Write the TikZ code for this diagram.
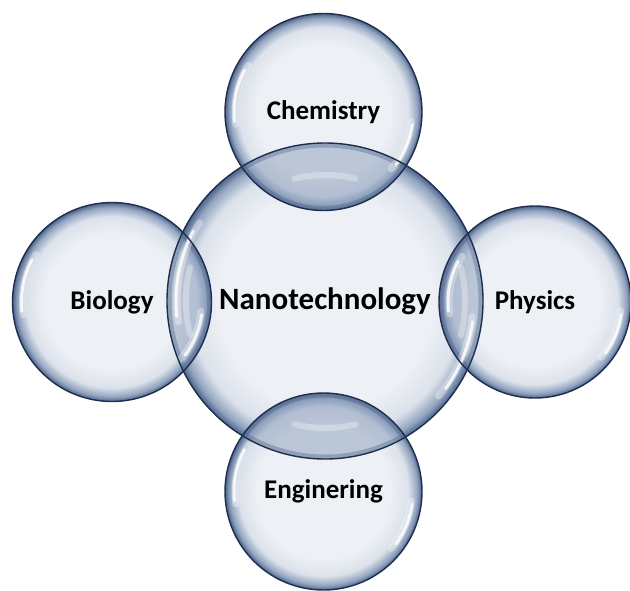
\documentclass[tikz,border=0pt]{standalone}
\usepackage{fontspec}
\setmainfont{Carlito}
\definecolor{bubin}{HTML}{EDF0F5}
\definecolor{bubmid}{HTML}{DCE2EB}
\definecolor{bubedge}{HTML}{93A5C0}
\definecolor{bubrim}{HTML}{4C638A}
\definecolor{outl}{HTML}{1E2E4E}
\definecolor{lensc}{HTML}{7F93B3}
\pgfdeclareradialshading{bubble}{\pgfpoint{0bp}{0bp}}{color(0bp)=(bubin); color(17bp)=(bubin); color(21.5bp)=(bubmid); color(23.8bp)=(bubedge); color(25bp)=(bubrim); color(50bp)=(bubrim)}
\tikzset{
  bubblenode/.style={circle, shade, shading=bubble, inner sep=0pt, text=black,
    font=\bfseries\fontsize{27}{30}\selectfont},
  rimline/.style={draw=outl, line width=1.4pt},
  hl/.style={white, line width=3pt, line cap=round, opacity=0.8},
  hlsoft/.style={white, line width=7pt, line cap=round, opacity=0.35},
  lensfill/.style={fill=lensc, opacity=0.45},
  lensrim/.style={draw=bubrim, line width=9pt, opacity=0.38},
  lenshl/.style={white, line width=6pt, line cap=round, opacity=0.3}
}
\begin{document}
\begin{tikzpicture}[x=1pt, y=-1pt]
\useasboundingbox (0,0) rectangle (630,590);
\fill[white] (0,0) rectangle (630,590);
% central bubble
\node[bubblenode, minimum size=316pt, font=\bfseries\fontsize{31}{34}\selectfont] (nano) at (325,301) {Nanotechnology};
% satellite bubbles
\node[bubblenode, minimum size=197pt] (chem) at (323.5,112) {Chemistry};
\node[bubblenode, minimum size=199pt] (bio) at (112,302) {Biology};
\node[bubblenode, minimum size=192pt] (phys) at (535,302) {Physics};
\node[bubblenode, minimum size=197pt] (eng) at (323.5,491.5) {Enginering};
% overlap lenses
\foreach \s/\r/\a/\m in {chem/98.5/270/126, bio/99.5/180/139, phys/96/0/140, eng/98.5/90/127}{
  \begin{scope}
    \clip (nano.center) circle[radius=158];
    \clip (\s.center) circle[radius=\r];
    \fill[lensfill] (\s.center) circle[radius=\r];
    \draw[lensrim] (nano.center) circle[radius=158];
    \draw[lensrim] (\s.center) circle[radius=\r];
    \draw[lenshl] (nano.center) ++(\a-14:\m) arc[start angle=\a-14, end angle=\a+14, radius=\m];
  \end{scope}
}
% glossy highlights
\foreach \n/\r in {nano/158, chem/98.5, bio/99.5, phys/96, eng/98.5}{
  \draw[hlsoft] (\n.center) ++(172:\r-10) arc[start angle=172, end angle=212, radius=\r-10];
  \draw[hl] (\n.center) ++(174:\r-9) arc[start angle=174, end angle=208, radius=\r-9];
  \draw[hlsoft] (\n.center) ++(6:\r-10) arc[start angle=6, end angle=40, radius=\r-10];
  \draw[hl] (\n.center) ++(8:\r-9) arc[start angle=8, end angle=36, radius=\r-9];
}
% outlines
\foreach \n/\r in {nano/158, chem/98.5, bio/99.5, phys/96, eng/98.5}{
  \draw[rimline] (\n.center) circle[radius=\r];
}
\end{tikzpicture}
\end{document}
